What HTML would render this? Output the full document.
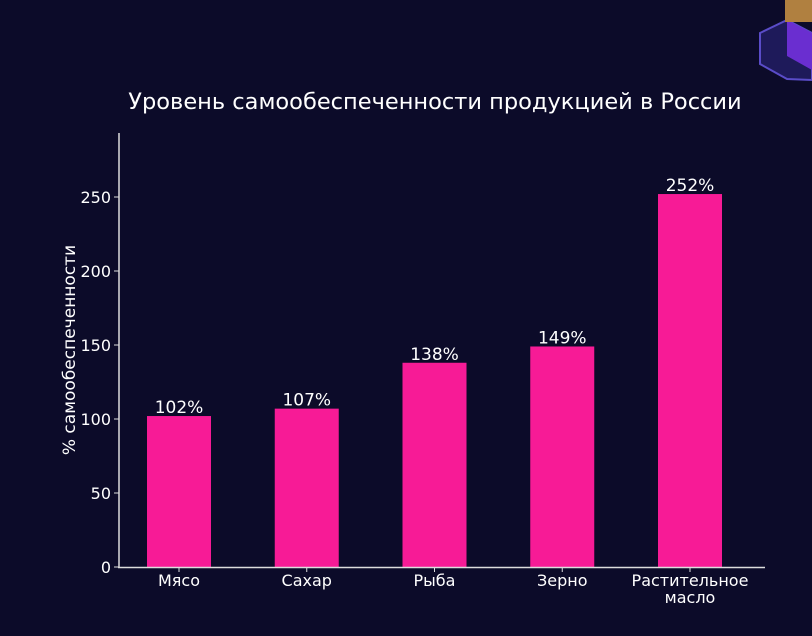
<!DOCTYPE html>
<html><head><meta charset="utf-8"><style>
body{margin:0;background:#0c0b29;}
svg{display:block;font-family:"DejaVu Sans","Liberation Sans",sans-serif;}
</style></head><body>
<svg width="812" height="636">
<rect width="812" height="636" fill="#0c0b29"/>
<g>
<polygon points="787,20 812,33 812,80 787,79 760,64 760,33" fill="#1e1a5a" stroke="#5a4cc8" stroke-width="2"/>
<polygon points="787,20 812,33 812,70 787,56" fill="#6a2ed0"/>
<rect x="785" y="0" width="27" height="22" fill="#b08040"/>
</g>
<text x="435" y="109" fill="#fff" font-size="22.5" text-anchor="middle">Уровень самообеспеченности продукцией в России</text>
<text transform="translate(75,350) rotate(-90)" fill="#fff" font-size="17" text-anchor="middle">% самообеспеченности</text>
<g id="plot"></g>
</svg>
<script>
const categories=["Мясо","Сахар","Рыба","Зерно","Растительное\nмасло"];
const values=[102,107,138,149,252];
const labels=["102%","107%","138%","149%","252%"];
const yTicks=[0,50,100,150,200,250];
const NS="http://www.w3.org/2000/svg";
const g=document.getElementById('plot');
const y=v=>567-v*1.48;
const x=i=>179+i*127.75;
function mk(t,a,txt){const e=document.createElementNS(NS,t);for(const k in a)e.setAttribute(k,a[k]);if(txt!==undefined)e.textContent=txt;g.appendChild(e);return e;}
yTicks.forEach(t=>{
 const tk=mk('line',{x1:114,x2:119,y1:y(t),y2:y(t),stroke:'#ddd','stroke-width':1});
 
 
 const l=mk('text',{x:111,y:y(t)+6,fill:'#fff','font-size':16,'text-anchor':'end'},t);
 
 
});
values.forEach((v,i)=>{
 const b=mk('rect',{x:x(i)-32,y:y(v),width:64,height:y(0)-y(v),fill:'#f71b96'});
 
 
 const l=mk('text',{x:x(i),y:y(v)-3,fill:'#fff','font-size':17,'text-anchor':'middle'},labels[i]);
 
 
 const tk=mk('line',{x1:x(i),x2:x(i),y1:567,y2:572,stroke:'#ddd','stroke-width':1});
 
 
 categories[i].split('\n').forEach((s,j)=>{
  const c=mk('text',{x:x(i),y:586+j*17,fill:'#fff','font-size':16,'text-anchor':'middle'},s);
  
  
 });
});
const ax=mk('line',{x1:119,x2:119,y1:133,y2:568,stroke:'#ddd','stroke-width':1.5});


const bx=mk('line',{x1:118,x2:765,y1:567.5,y2:567.5,stroke:'#ddd','stroke-width':1.5});


</script>
</body></html>
